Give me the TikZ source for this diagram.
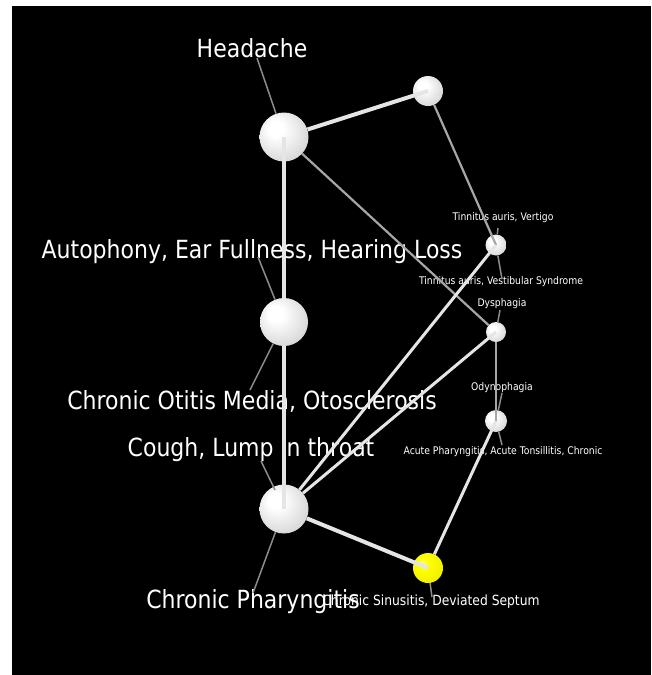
\documentclass[tikz,border=0pt]{standalone}
\usepackage{fontspec}
\newfontfamily\labfont[FakeStretch=0.88]{DejaVu Sans}
\pgfdeclareradialshading{wsph}{\pgfpoint{-10bp}{10bp}}{color(0bp)=(white); color(8bp)=(white); color(28bp)=(black!14); color(42bp)=(black!28); color(50bp)=(black!38)}
\pgfdeclareradialshading{ysph}{\pgfpoint{-10bp}{10bp}}{color(0bp)=(yellow!55!white); color(10bp)=(yellow); color(38bp)=(yellow!92!black); color(50bp)=(yellow!75!black)}
\tikzset{
  wball/.style={circle, inner sep=0pt, draw=none, shading=wsph},
  yball/.style={circle, inner sep=0pt, draw=none, shading=ysph},
  biglab/.style={text=white, font=\labfont\fontsize{25}{25}\selectfont, inner sep=0pt, anchor=center},
  smalllab/.style={text=white, font=\labfont\fontsize{10.5}{10.5}\selectfont, inner sep=0pt, anchor=center},
  thickedge/.style={draw=white!90!black, line width=4pt},
  midedge/.style={draw=white!90!black, line width=3pt},
  thinedge/.style={draw=black!35, line width=2.2pt},
  leader/.style={draw=black!45, line width=1.5pt}
}
\begin{document}
\begin{tikzpicture}[x=1pt, y=-1pt]
\useasboundingbox (0,0) rectangle (651,675);
\fill[white] (0,0) rectangle (651,675);
\fill[black] (12,6) rectangle (651,675);

% labels
\node[biglab] (lHead) at (252,48) {Headache};
\node[biglab] (lAuto) at (252,252) {Autophony, Ear Fullness, Hearing Loss};
\node[biglab] (lOtit) at (252,401) {Chronic Otitis Media, Otosclerosis};
\node[biglab] (lCough) at (251,450) {Cough, Lump in throat};
\node[smalllab] (lVert) at (503,218) {Tinnitus auris, Vertigo};
\node[smalllab] (lVest) at (501,282) {Tinnitus auris, Vestibular Syndrome};
\node[smalllab] (lDys) at (502,304) {Dysphagia};
\node[smalllab] (lOdy) at (502,388) {Odynophagia};
\node[smalllab] (lAcute) at (503,452) {Acute Pharyngitis, Acute Tonsillitis, Chronic};
\node[smalllab, font=\labfont\fontsize{14}{14}\selectfont] (lSinus) at (431,602) {Chronic Sinusitis, Deviated Septum};
\node[biglab] (lPhar) at (253,602) {Chronic Pharyngitis};

% leader end points
\coordinate (cHead) at (257,58);
\coordinate (cAuto) at (258,257);
\coordinate (cOtit) at (250,390);
\coordinate (cCough) at (261,461);
\coordinate (cCoughEnd) at (275,490);
\coordinate (cPhar) at (253,593);
\coordinate (cVert) at (498,228);
\coordinate (cVest) at (502,279);
\coordinate (cDys) at (500,310);
\coordinate (cOdy) at (502,393);
\coordinate (cAcute) at (502,445);
\coordinate (cSinus) at (432,597);

% spheres
\node[wball, minimum size=49pt] (A) at (284,137) {};
\node[wball, minimum size=30pt] (B) at (428,91) {};
\node[wball, minimum size=48pt] (G) at (284,322) {};
\node[wball, minimum size=21pt] (C) at (496,245) {};
\node[wball, minimum size=20pt] (D) at (496,332) {};
\node[wball, minimum size=22pt] (E) at (496,421) {};
\node[wball, minimum size=49pt] (H) at (284,509) {};
\node[yball, minimum size=30pt] (F) at (428,568) {};

% leaders
\draw[leader] (cHead) -- (A);
\draw[leader] (cAuto) -- (G);
\draw[leader] (G) -- (cOtit);
\draw[leader] (cCough) -- (cCoughEnd);
\draw[leader] (H) -- (cPhar);
\draw[leader] (cVert) -- (C);
\draw[leader] (C) -- (cVest);
\draw[leader] (cDys) -- (D);
\draw[leader] (cOdy) -- (E);
\draw[leader] (E) -- (cAcute);
\draw[leader] (F) -- (cSinus);

% edges
\draw[thickedge] (A) -- (B.center);
\draw[thickedge] (A.center) -- (G);
\draw[thickedge] (G) -- (H.center);
\draw[thinedge] (A) -- (D);
\draw[thinedge] (B) -- (C.center);
\draw[midedge] (H) -- (C.center);
\draw[midedge] (H) -- (D.center);
\draw[thinedge] (D) -- (E.center);
\draw[midedge] (F) -- (E.center);
\draw[thickedge] (H) -- (F.center);
\end{tikzpicture}
\end{document}
